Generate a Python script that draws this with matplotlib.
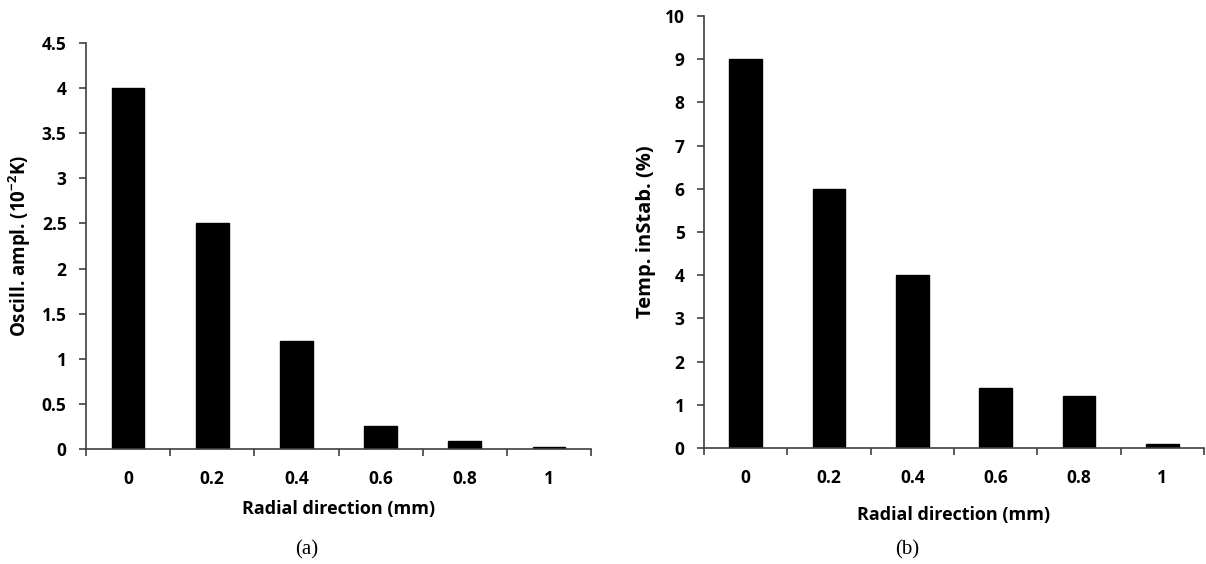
import matplotlib
matplotlib.use("Agg")
import matplotlib.pyplot as plt
from matplotlib.ticker import FixedLocator, MultipleLocator, FuncFormatter

categories = ["0", "0.2", "0.4", "0.6", "0.8", "1"]
osc_ampl = [4.0, 2.5, 1.2, 0.25, 0.09, 0.02]
temp_instab = [9.0, 6.0, 4.0, 1.4, 1.2, 0.1]

FONT = ["Open Sans", "DejaVu Sans"]
SPINE = "#404040"
plt.rcParams["mathtext.fontset"] = "custom"
plt.rcParams["mathtext.rm"] = "Open Sans:bold"
plt.rcParams["mathtext.bf"] = "Open Sans:bold"
plt.rcParams["mathtext.default"] = "rm"

fig = plt.figure(figsize=(12.06, 5.64), dpi=100)
axA = fig.add_axes([86/1206, 1-449/564, (591-86)/1206, (449-43)/564])
axB = fig.add_axes([704/1206, 1-448/564, (1204-704)/1206, (448-16)/564])

def style(ax, vals, ymax, ystep, ylabel, caption, capx, xpad, ylsize):
    x = [i + 0.5 for i in range(len(vals))]
    ax.bar(x, vals, width=0.39, color="black", edgecolor="black")
    ax.set_xlim(0, len(vals))
    ax.set_ylim(0, ymax)
    ax.set_xticks(x)
    ax.set_xticklabels(categories, fontfamily=FONT, fontweight="bold", fontsize=12.5)
    ax.xaxis.set_minor_locator(FixedLocator(list(range(len(vals) + 1))))
    ax.tick_params(axis="x", which="major", length=0, pad=15)
    ax.tick_params(axis="x", which="minor", length=5, direction="out", color=SPINE, width=1.2)
    ax.yaxis.set_major_locator(MultipleLocator(ystep))
    ax.yaxis.set_major_formatter(FuncFormatter(lambda v, p: f"{v:g}"))
    ax.tick_params(axis="y", length=5, direction="out", color=SPINE, width=1.2, pad=9)
    for lab in ax.get_yticklabels():
        lab.set_fontfamily(FONT)
        lab.set_fontweight("bold")
        lab.set_fontsize(12.5)
    for s in ["top", "right"]:
        ax.spines[s].set_visible(False)
    for s in ["left", "bottom"]:
        ax.spines[s].set_color(SPINE)
        ax.spines[s].set_linewidth(1.2)
    ax.set_ylabel(ylabel, fontfamily=FONT, fontweight="bold", fontsize=ylsize, labelpad=6)
    ax.set_xlabel("Radial direction (mm)", fontfamily=FONT, fontweight="bold", fontsize=13, labelpad=xpad)
    fig.text(capx, 1 - 550/564, caption, fontfamily="Liberation Serif", fontsize=15, ha="center", va="center")

style(axA, osc_ampl, 4.5, 0.5, "Oscill. ampl. (10$^{-2}$K)", "(a)", 307/1206, 9, 13.5)
style(axB, temp_instab, 10, 1, "Temp. inStab. (%)", "(b)", 907/1206, 14, 14.5)

fig.savefig("out.png", dpi=100)
